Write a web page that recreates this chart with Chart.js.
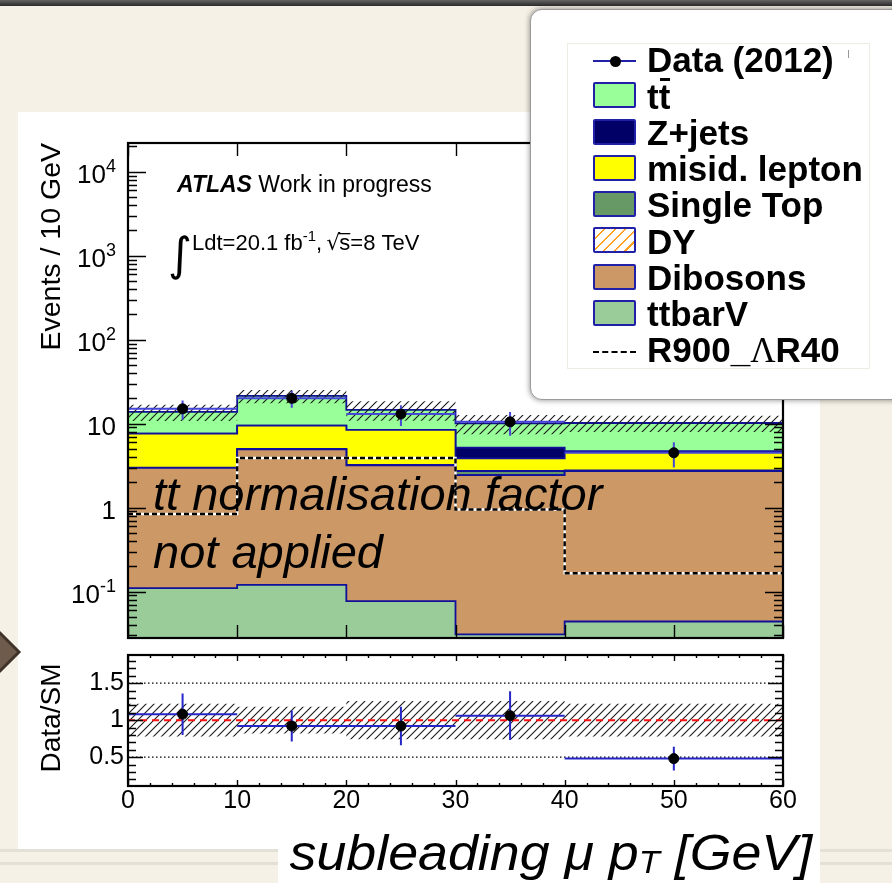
<!DOCTYPE html>
<html lang="en">
<head>
<meta charset="utf-8">
<title>subleading muon pT</title>
<script src="https://cdn.jsdelivr.net/npm/chart.js@4.4.1/dist/chart.umd.min.js"></script>
<style>
html, body { margin: 0; padding: 0; }
body { position: relative; width: 892px; height: 883px; overflow: hidden; background: #f5f1e6; font-family: "Liberation Sans", Arial, sans-serif; }
#topbar { position: absolute; left: 0; top: 0; width: 892px; height: 6px; background: linear-gradient(#646464, #2a2a2a); }
.rule { position: absolute; left: 0; width: 892px; height: 3px; background: #e3e0d7; }
#panel { position: absolute; left: 18px; top: 112px; width: 802px; height: 737px; background: #fff; }
#arrow { position: absolute; left: 0; top: 620px; }
canvas { position: absolute; }
#main { left: 18px; top: 112px; }
#ratio { left: 18px; top: 648px; }
#xbox { position: absolute; left: 278px; top: 822px; width: 542px; height: 61px; background: #fff; }
#xtitle { position: absolute; right: 80px; top: 828px; font-style: italic; font-size: 50px; line-height: 50px; white-space: nowrap; color: #000; transform: scaleX(1.075); transform-origin: right center; }
#xtitle .sub { font-size: 32px; line-height: 0; vertical-align: -3px; }
#legend { position: absolute; left: 530px; top: 9px; width: 380px; height: 389px; background: #fff; border: 1px solid #9a9a9a; border-radius: 12px; box-shadow: 0 0 5px 1px rgba(0,0,0,0.35); }
#legIn { position: absolute; left: 567px; top: 43px; width: 301px; height: 324px; border: 1px solid #efece4; background: #fff; }
.lg { position: absolute; left: 647px; font-weight: bold; font-size: 35px; line-height: 35px; white-space: nowrap; color: #000; }
.lg .ovl { position: relative; }
.lg .ovl::after { content: ''; position: absolute; left: 1px; right: 0; top: 1px; height: 3px; background: #000; }
.lg .lam { font-family: "Liberation Serif", serif; font-weight: normal; }
.sw { position: absolute; left: 593px; width: 39px; height: 22px; border: 2px solid #2020a8; border-radius: 2px; }
.mk { position: absolute; }
</style>
</head>
<body>
<div id="topbar"></div>
<div class="rule" style="top:849px"></div>
<div class="rule" style="top:862px"></div>
<div id="panel"></div>
<svg id="arrow" width="22" height="64"><polygon points="19,32 -7,6 -33,32 -7,58" fill="#6e5b4b" stroke="#3f3229" stroke-width="3"/></svg>
<div id="xbox"></div>
<canvas id="main" width="802" height="540"></canvas>
<canvas id="ratio" width="802" height="200"></canvas>
<div id="xtitle">subleading μ p<span class="sub">T</span> [GeV]</div>
<div id="legend"></div>
<div id="legIn"></div>
<script>
// binning (GeV) - last bin is 20 GeV wide
const binEdges = [0, 10, 20, 30, 40, 60];
const binCentres = [5, 15, 25, 35, 50];

// stacked backgrounds, events / 10 GeV (bottom of the stack first)
const ttbarV = [0.11, 0.12, 0.077, 0.031, 0.044];
const dibosons = [2.86, 4.83, 3.12, 2.40, 2.68];
const drellYan = [0, 0, 0, 0, 0];
const singleTop = [0.03, 0.04, 0.03, 0.30, 0.05];
const misidLepton = [4.6, 4.5, 5.2, 1.13, 1.9];
const zJets = [0, 0, 0, 1.32, 0];
const ttbar = [6.2, 11.9, 6.2, 4.9, 5.5];

// signal overlay and data
const signalR900 = [0.84, 3.9, 3.9, 0.95, 0.165];
const dataCounts = [15, 20, 13, 10.5, 4.5];
const dataErr = [3.9, 4.5, 3.6, 3.3, 1.5];
const bkgRelErr = [0.22, 0.18, 0.26, 0.26, 0.22];

// Data/SM
const ratioVals = [1.08, 0.92, 0.92, 1.06, 0.48];
const ratioErr = [0.28, 0.21, 0.26, 0.33, 0.16];

// axis labels
const xTicks = [0, 10, 20, 30, 40, 50, 60];
const logDecades = [-1, 0, 1, 2, 3, 4];
const ratioTicks = [0.5, 1, 1.5];

const FONT = '"Liberation Sans", Arial, sans-serif';
const BORDER = '#10109a';

function steps(vals) {
  const pts = vals.map((v, i) => ({x: binEdges[i], y: v}));
  pts.push({x: binEdges[binEdges.length - 1], y: vals[vals.length - 1]});
  return pts;
}

function hatch(color, gap, lw) {
  const c = document.createElement('canvas');
  c.width = gap; c.height = gap;
  const g = c.getContext('2d');
  g.strokeStyle = color; g.lineWidth = lw;
  g.beginPath();
  g.moveTo(0, gap); g.lineTo(gap, 0);
  g.moveTo(-2, 2); g.lineTo(2, -2);
  g.moveTo(gap - 2, gap + 2); g.lineTo(gap + 2, gap - 2);
  g.stroke();
  return g.createPattern(c, 'repeat');
}
const blackHatch = hatch('#1a1a1a', 8, 1.1);

const stackParts = [
  {label: 'ttbarV', vals: ttbarV, color: '#99cc99'},
  {label: 'Dibosons', vals: dibosons, color: '#cc9966'},
  {label: 'DY', vals: drellYan, color: hatch('#ffa020', 8, 1.2), dy: true},
  {label: 'Single Top', vals: singleTop, color: '#669966'},
  {label: 'misid. lepton', vals: misidLepton, color: '#ffff00'},
  {label: 'Z+jets', vals: zJets, color: '#000066'},
  {label: 'tt', html: 't<span class="ovl">t</span>', vals: ttbar, color: '#99ff99'}
];

let running = binCentres.map(() => 0);
const stackSets = stackParts.map((p, k) => {
  running = running.map((r, i) => r + p.vals[i]);
  return {
    label: p.label, data: steps(running), stepped: true,
    fill: k === 0 ? 'start' : '-1', backgroundColor: p.color,
    borderColor: BORDER, borderWidth: 1.8, pointRadius: 0, order: 10
  };
});
const total = running;
const bandLoIdx = stackSets.length;

const mainSets = stackSets.concat([
  {label: 'unc lo', data: steps(total.map((t, i) => t * (1 - bkgRelErr[i]))), stepped: true,
   borderColor: 'transparent', borderWidth: 0, pointRadius: 0, fill: false, order: -1},
  {label: 'unc hi', data: steps(total.map((t, i) => t * (1 + bkgRelErr[i]))), stepped: true,
   borderColor: 'transparent', borderWidth: 0, pointRadius: 0, fill: {target: bandLoIdx}, backgroundColor: blackHatch, order: -1},
  {label: 'R900 under', data: steps(signalR900), stepped: true, borderColor: '#fff', borderWidth: 2.4, pointRadius: 0, fill: false, order: -2},
  {label: 'R900_ΛR40', data: steps(signalR900), stepped: true, borderColor: '#000', borderWidth: 2.4, borderDash: [5, 3], pointRadius: 0, fill: false, order: -3},
  {label: 'Data (2012)', data: binCentres.map((x, i) => ({x, y: dataCounts[i]})), showLine: false,
   pointRadius: 5, pointBackgroundColor: '#000', pointBorderColor: '#000', yErr: dataErr, errColor: '#4646d8', order: -10}
]);

// ROOT style frame with inward ticks on all four sides
function rootAxes(cfg) {
  return {
    id: 'rootAxes',
    afterDatasetsDraw(chart) {
      const {ctx, chartArea: a, scales: {x, y}} = chart;
      ctx.save();
      ctx.strokeStyle = '#000';
      ctx.lineWidth = 1.4;
      ctx.beginPath();
      const vt = (list, len) => list.forEach(v => {
        const px = Math.round(x.getPixelForValue(v)) + 0.5;
        ctx.moveTo(px, a.bottom); ctx.lineTo(px, a.bottom - len);
        ctx.moveTo(px, a.top); ctx.lineTo(px, a.top + len);
      });
      const ht = (list, len) => list.forEach(v => {
        const py = Math.round(y.getPixelForValue(v)) + 0.5;
        ctx.moveTo(a.left, py); ctx.lineTo(a.left + len, py);
        ctx.moveTo(a.right, py); ctx.lineTo(a.right - len, py);
      });
      vt(cfg.xMajor, cfg.xMajorLen); vt(cfg.xMinor, cfg.xMinorLen);
      ht(cfg.yMajor, cfg.yMajorLen); ht(cfg.yMinor, cfg.yMinorLen);
      ctx.stroke();
      ctx.lineWidth = 2.2;
      ctx.strokeRect(a.left, a.top, a.width, a.height);
      ctx.restore();
    }
  };
}

// error bars drawn just beneath the data markers
const errorBars = {
  id: 'errorBars',
  beforeDatasetDraw(chart, args) {
    const ds = chart.data.datasets[args.index];
    if (!ds.yErr) return;
    const {ctx, chartArea: a, scales: {x, y}} = chart;
    ctx.save();
    ctx.beginPath(); ctx.rect(a.left, a.top, a.width, a.height); ctx.clip();
    ctx.strokeStyle = ds.errColor; ctx.lineWidth = 2;
    ctx.beginPath();
    ds.data.forEach((p, i) => {
      const px = x.getPixelForValue(p.x), py = y.getPixelForValue(p.y);
      ctx.moveTo(px, y.getPixelForValue(p.y - ds.yErr[i]));
      ctx.lineTo(px, y.getPixelForValue(p.y + ds.yErr[i]));
      ctx.moveTo(x.getPixelForValue(binEdges[i]), py);
      ctx.lineTo(x.getPixelForValue(binEdges[i + 1]), py);
    });
    ctx.stroke();
    ctx.restore();
  }
};

const logMinor = [];
for (let d = -2; d <= 4; d++) for (let k = 2; k <= 9; k++) logMinor.push(k * Math.pow(10, d));
const ratioMinor = [];
for (let v = 0.2; v < 1.85; v += 0.1) {
  const r = Math.round(v * 10) / 10;
  if (!ratioTicks.includes(r)) ratioMinor.push(r);
}
const xMinor = [];
for (let v = 2; v < 60; v += 2) if (v % 10) xMinor.push(v);

const mainText = {
  id: 'mainText',
  afterDraw(chart) {
    const {ctx, chartArea: a, scales: {y}} = chart;
    ctx.save();
    ctx.fillStyle = '#000';
    ctx.textBaseline = 'alphabetic';
    ctx.textAlign = 'left';
    // decade labels 10^n
    logDecades.forEach(e => {
      const py = y.getPixelForValue(Math.pow(10, e)) + 11;
      const base = e === 0 ? '1' : '10';
      const sup = (e === 0 || e === 1) ? '' : String(e);
      ctx.font = '26px ' + FONT;
      const wb = ctx.measureText(base).width;
      ctx.font = '18px ' + FONT;
      const ws = sup ? ctx.measureText(sup).width : 0;
      const x0 = 98 - wb - ws;
      ctx.font = '26px ' + FONT;
      ctx.fillText(base, x0, py);
      if (sup) { ctx.font = '18px ' + FONT; ctx.fillText(sup, x0 + wb, py - 11); }
    });
    // axis title, aligned to the top of the frame
    ctx.save();
    ctx.translate(34, a.top);
    ctx.rotate(-Math.PI / 2);
    ctx.font = '28.5px ' + FONT;
    ctx.textAlign = 'right';
    ctx.textBaseline = 'middle';
    ctx.fillText('Events / 10 GeV', 0, 0);
    ctx.restore();

    ctx.font = 'italic bold 23px ' + FONT;
    ctx.fillText('ATLAS', 159, 80);
    const wa = ctx.measureText('ATLAS').width;
    ctx.font = '23px ' + FONT;
    ctx.fillText(' Work in progress', 159 + wa, 80);

    ctx.font = '46px "DejaVu Sans"';
    ctx.fillText('\u222B', 150, 158);
    let cx = 174;
    ctx.font = '22px ' + FONT;
    ctx.fillText('Ldt=20.1 fb', cx, 138); cx += ctx.measureText('Ldt=20.1 fb').width;
    ctx.font = '15px ' + FONT;
    ctx.fillText('-1', cx, 129); cx += ctx.measureText('-1').width;
    ctx.font = '22px ' + FONT;
    ctx.fillText(', ', cx, 138); cx += ctx.measureText(', ').width;
    ctx.font = '22px "DejaVu Sans"';
    ctx.fillText('\u221A', cx - 2, 138); cx += ctx.measureText('\u221A').width - 3;
    ctx.font = '22px ' + FONT;
    const ws = ctx.measureText('s').width;
    ctx.fillText('s', cx, 138);
    ctx.fillRect(cx - 1, 121, ws + 1, 1.3);
    cx += ws;
    ctx.fillText('=8 TeV', cx, 138);

    ctx.font = 'italic 47px ' + FONT;
    ctx.fillText('tt normalisation factor', 135, 398);
    ctx.fillText('not applied', 135, 456);
    ctx.restore();
  }
};

new Chart(document.getElementById('main'), {
  type: 'line',
  data: {datasets: mainSets},
  options: {
    responsive: false, animation: false, devicePixelRatio: 1, events: [],
    layout: {padding: {left: 0, right: 37, top: 31, bottom: 14}},
    plugins: {legend: {display: false}, tooltip: {enabled: false}},
    scales: {
      x: {type: 'linear', min: 0, max: 60, display: false},
      y: {
        type: 'logarithmic', min: 0.028, max: 22000,
        grid: {display: false}, border: {display: false},
        ticks: {display: false},
        afterFit: s => { s.width = 110; s.paddingTop = 0; s.paddingBottom = 0; }
      }
    }
  },
  plugins: [rootAxes({
    xMajor: xTicks, xMajorLen: 13, xMinor: [], xMinorLen: 0,
    yMajor: logDecades.map(e => Math.pow(10, e)), yMajorLen: 18,
    yMinor: logMinor.filter(v => v > 0.028 && v < 22000), yMinorLen: 9
  }), errorBars, mainText]
});

// ratio pad
const ratioText = {
  id: 'ratioText',
  afterDraw(chart) {
    const {ctx} = chart;
    ctx.save();
    ctx.translate(34, 70);
    ctx.rotate(-Math.PI / 2);
    ctx.fillStyle = '#000';
    ctx.font = '28px ' + FONT;
    ctx.textAlign = 'center';
    ctx.textBaseline = 'middle';
    ctx.fillText('Data/SM', 0, 0);
    ctx.restore();
  }
};

const refLine = (v, color, dash, w) => ({
  data: [{x: 0, y: v}, {x: 60, y: v}], borderColor: color, borderDash: dash,
  borderWidth: w, pointRadius: 0, fill: false, order: 2
});

new Chart(document.getElementById('ratio'), {
  type: 'line',
  data: {datasets: [
    {data: steps(bkgRelErr.map(r => 1 - r)), stepped: true, borderColor: 'transparent', borderWidth: 0, pointRadius: 0, fill: false, order: 5},
    {data: steps(bkgRelErr.map(r => 1 + r)), stepped: true, borderColor: 'transparent', borderWidth: 0, pointRadius: 0, fill: {target: 0}, backgroundColor: blackHatch, order: 5},
    refLine(ratioTicks[0], '#000', [1.5, 2.5], 1.3),
    refLine(ratioTicks[2], '#000', [1.5, 2.5], 1.3),
    refLine(ratioTicks[1], '#ff1010', [7, 5], 2),
    {data: binCentres.map((x, i) => ({x, y: ratioVals[i]})), showLine: false,
     pointRadius: 5, pointBackgroundColor: '#000', pointBorderColor: '#000',
     yErr: ratioErr, errColor: '#2626c8', order: -10}
  ]},
  options: {
    responsive: false, animation: false, devicePixelRatio: 1, events: [],
    layout: {padding: {left: 0, right: 37, top: 7, bottom: 0}},
    plugins: {legend: {display: false}, tooltip: {enabled: false}},
    scales: {
      x: {
        type: 'linear', min: 0, max: 60,
        grid: {display: false, drawTicks: false}, border: {display: false},
        afterBuildTicks: s => { s.ticks = xTicks.map(v => ({value: v})); },
        ticks: {color: '#000', font: {family: FONT, size: 25}, padding: 0, maxRotation: 0, callback: v => String(v)},
        afterFit: s => { s.height = 62; s.paddingLeft = 0; s.paddingRight = 0; }
      },
      y: {
        type: 'linear', min: 0.11, max: 1.88,
        grid: {display: false, drawTicks: false}, border: {display: false},
        afterBuildTicks: s => { s.ticks = ratioTicks.map(v => ({value: v})); },
        ticks: {color: '#000', font: {family: FONT, size: 25}, padding: 4, callback: v => String(v)},
        afterFit: s => { s.width = 110; s.paddingTop = 0; s.paddingBottom = 0; }
      }
    }
  },
  plugins: [rootAxes({
    xMajor: xTicks, xMajorLen: 6, xMinor: xMinor, xMinorLen: 3,
    yMajor: ratioTicks, yMajorLen: 15, yMinor: ratioMinor, yMinorLen: 8
  }), errorBars, ratioText]
});

// legend panel: data, stack (top of stack first), signal
const rowBase = i => 72 + 36.25 * i;
const addEl = (cls, style, html) => {
  const d = document.createElement('div');
  d.className = cls;
  Object.assign(d.style, style);
  if (html) d.innerHTML = html;
  document.body.appendChild(d);
  return d;
};
addEl('mk', {left: '593px', top: (rowBase(0) - 12) + 'px', width: '43px', height: '2px', background: '#2020a8'});
addEl('mk', {left: '610px', top: (rowBase(0) - 16.5) + 'px', width: '11px', height: '11px', borderRadius: '50%', background: '#000'});
addEl('lg', {top: (rowBase(0) - 29.6) + 'px'}, 'Data (2012)');
addEl('mk', {left: '848px', top: '50px', width: '1px', height: '8px', background: '#999'});
stackParts.slice().reverse().forEach((p, k) => {
  const b = rowBase(k + 1);
  const bg = p.dy ? 'repeating-linear-gradient(135deg, #fff 0 6px, #ffa020 6px 7.5px)' : p.color;
  addEl('sw', {top: (b - 25.8) + 'px', background: bg});
  addEl('lg', {top: (b - 29.6) + 'px'}, p.html || p.label);
});
const sb = rowBase(stackParts.length + 1);
addEl('mk', {left: '593px', top: (sb - 11) + 'px', width: '43px', height: '0', borderTop: '2.5px dashed #000'});
addEl('lg', {top: (sb - 29.6) + 'px'}, 'R900_<span class="lam">Λ</span>R40');
</script>
</body>
</html>
